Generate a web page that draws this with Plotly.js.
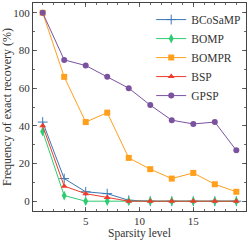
<!DOCTYPE html>
<html><head><meta charset="utf-8">
<script src="https://cdn.plot.ly/plotly-3.0.1.min.js"></script>
<style>html,body{margin:0;padding:0;background:#fff}#plot{width:249px;height:241px}</style>
</head><body><div id="plot"></div>
<script>
const sparsity = [1, 3, 5, 7, 9, 11, 13, 15, 17, 19];
const bcosamp = [42, 12, 5, 4, 0.5, 0, 0, 0, 0, 0];
const bomp = [37, 3, 0, 0, 0, 0, 0, 0, 0, 0];
const bompr = [100, 66, 42, 47, 23, 17, 12, 15, 9, 5];
const bsp = [40, 8, 4, 2, 0, 0, 0, 0, 0, 0];
const gpsp = [100, 75, 72, 66, 60, 51, 43, 41, 42, 27];
const names = ['BCoSaMP', 'BOMP', 'BOMPR', 'BSP', 'GPSP'];
const series = [bcosamp, bomp, bompr, bsp, gpsp];
const colors = ['#3a78b5', '#2ecc71', '#ff9f1c', '#ee3b2b', '#7b52a0'];
const symbols = ['cross-thin', 'diamond-tall', 'square', 'triangle-up', 'circle'];
const sizes = [7, 7, 6, 6, 6];
const xTitle = 'Sparsity level';
const yTitle = 'Frequency of exact recovery (%)';

const font = 'Liberation Serif, Times New Roman, serif';
const traces = series.map((y, i) => ({
  x: sparsity, y: y, name: names[i], type: 'scatter', mode: 'lines+markers',
  line: {color: colors[i], width: 1},
  marker: {symbol: symbols[i], size: sizes[i], color: colors[i],
           line: {color: colors[i], width: symbols[i] === 'cross-thin' ? 1 : 0}}
}));

const axisCommon = {
  showgrid: false, zeroline: false, showline: true, linecolor: '#444', linewidth: 1,
  mirror: 'allticks', ticks: 'inside', ticklen: 4, tickcolor: '#444', tickwidth: 0.8,
  tickfont: {family: font, size: 11, color: '#333'}
};
const layout = {
  width: 249, height: 241,
  margin: {l: 33, r: 3, t: 3, b: 30},
  paper_bgcolor: '#fff', plot_bgcolor: '#fff',
  font: {family: font, size: 12, color: '#333'},
  showlegend: true,
  legend: {x: 0.555, y: 0.99, xanchor: 'left', yanchor: 'top', bgcolor: 'rgba(0,0,0,0)',
           font: {family: font, size: 11.5, color: '#333'}, tracegroupgap: 0, itemwidth: 30},
  xaxis: Object.assign({}, axisCommon, {
    range: [0.1, 19.9], tickvals: [5, 10, 15], ticktext: ['5', '10', '15'],
    minor: {dtick: 1, tick0: 0, ticklen: 2, ticks: 'inside', tickcolor: '#444'}
  }),
  yaxis: Object.assign({}, axisCommon, {
    range: [-5.2, 105.2], tickvals: [0, 20, 40, 60, 80, 100],
    minor: {dtick: 10, tick0: 0, ticklen: 2, ticks: 'inside', tickcolor: '#444'},
    title: {text: yTitle, font: {family: font, size: 12, color: '#333'}, standoff: 4}
  }),
  annotations: [{
    text: xTitle, xref: 'paper', yref: 'paper', x: 0.5, y: -30 / 208,
    xanchor: 'center', yanchor: 'bottom', showarrow: false, borderpad: 0,
    font: {family: font, size: 11.5, color: '#333'}
  }]
};
Plotly.newPlot('plot', traces, layout, {staticPlot: true, displayModeBar: false});
</script></body></html>
